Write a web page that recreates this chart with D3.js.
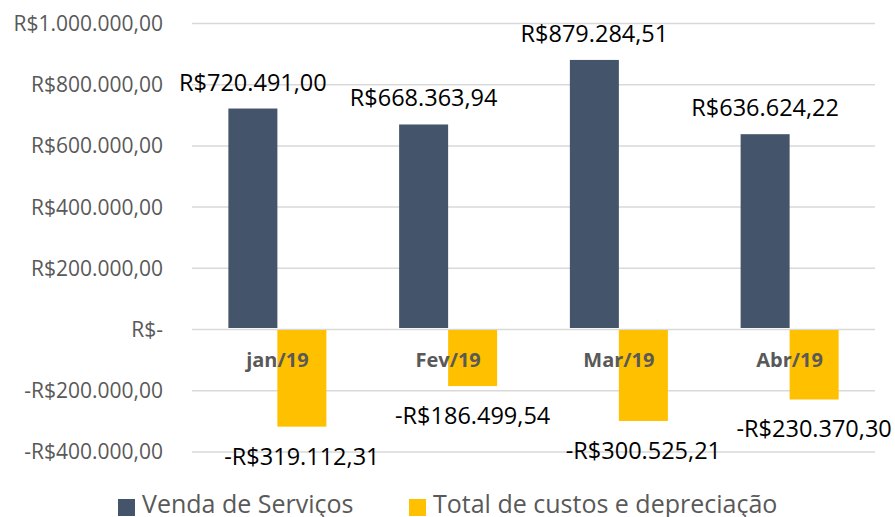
<!DOCTYPE html>
<html><head><meta charset="utf-8">
<script src="https://cdn.jsdelivr.net/npm/d3@7"></script>
<style>body{margin:0;background:#fff}svg{display:block}text{font-family:"Open Sans",Lato,sans-serif}</style>
</head><body><svg id="c" width="895" height="517"></svg>
<script>
const categories = ["jan/19","Fev/19","Mar/19","Abr/19"];
const seriesNames = ["Venda de Serviços","Total de custos e depreciação"];
const vendas = [720491.00, 668363.94, 879284.51, 636624.22];
const custos = [-319112.31, -186499.54, -300525.21, -230370.30];
const yTicks = [-400000,-200000,0,200000,400000,600000,800000,1000000];
const colors = ["#44546A","#FFC000"];

(function(){
const svg = d3.select("#c");
const pLeft=192,pRight=875,pTop=23,pBottom=451.4;

function brl(v){
  if (v===0) return "R$-";
  const s = Math.abs(v).toFixed(2).split(".");
  const int = s[0].replace(/\B(?=(\d{3})+(?!\d))/g,".");
  return (v<0?"-":"")+"R$"+int+","+s[1];
}

const y = d3.scaleLinear().domain([-400000,1000000]).range([pBottom,pTop]);
const x0 = d3.scaleBand().domain(categories).range([pLeft,pRight]).paddingInner(0.426).paddingOuter(0.213);
const x1 = d3.scaleBand().domain([0,1]).range([0,x0.bandwidth()]);

const yAxis = d3.axisLeft(y).tickValues(yTicks).tickSize(-(pRight-pLeft)).tickFormat(brl);
const ga = svg.append("g").attr("transform",`translate(${pLeft},0)`).call(yAxis);
ga.select(".domain").remove();
ga.selectAll(".tick line").attr("stroke","#D9D9D9").attr("stroke-width",1.5);
ga.selectAll(".tick text").attr("x",-29).attr("fill","#595959").style("font-size","21px").attr("dy","0.36em").style("font-family",'"Open Sans",sans-serif');

const data = categories.map((c,i)=>({c,vals:[vendas[i],custos[i]]}));
const g = svg.append("g");
const groups = g.selectAll("g.cat").data(data).join("g").attr("transform",d=>`translate(${x0(d.c)},0)`);
groups.selectAll("rect").data(d=>d.vals.map((v,k)=>({v,k}))).join("rect")
  .attr("x",d=>x1(d.k)).attr("width",x1.bandwidth())
  .attr("y",d=>d.v>=0?y(d.v):y(0)+1)
  .attr("height",d=>d.v>=0?y(0)-y(d.v)-1:y(d.v)-y(0)-1)
  .attr("fill",d=>colors[d.k]);

svg.append("g").selectAll("text").data(categories).join("text")
  .attr("x",d=>x0(d)+x0.bandwidth()/2).attr("y",y(0)+38)
  .attr("text-anchor","middle").attr("fill","#595959").style("font-size","20px").style("font-weight","bold")
  .text(d=>d);

groups.selectAll("text.lab").data(d=>d.vals.map((v,k)=>({v,k}))).join("text").attr("class","lab")
  .attr("x",d=>x1(d.k)+x1.bandwidth()/2)
  .attr("y",d=>d.v>=0?y(d.v)-18:y(d.v)+38)
  .attr("text-anchor","middle").attr("fill","#000").style("font-size","23.5px")
  .text(d=>brl(d.v));

const leg = svg.append("g");
const lx=[118,409];
seriesNames.forEach((n,i)=>{
  leg.append("rect").attr("x",lx[i]).attr("y",499).attr("width",17).attr("height",17).attr("fill",colors[i]);
  leg.append("text").attr("x",lx[i]+24).attr("y",513).attr("fill","#595959").style("font-size","25px").text(n);
});
})();
</script></body></html>
